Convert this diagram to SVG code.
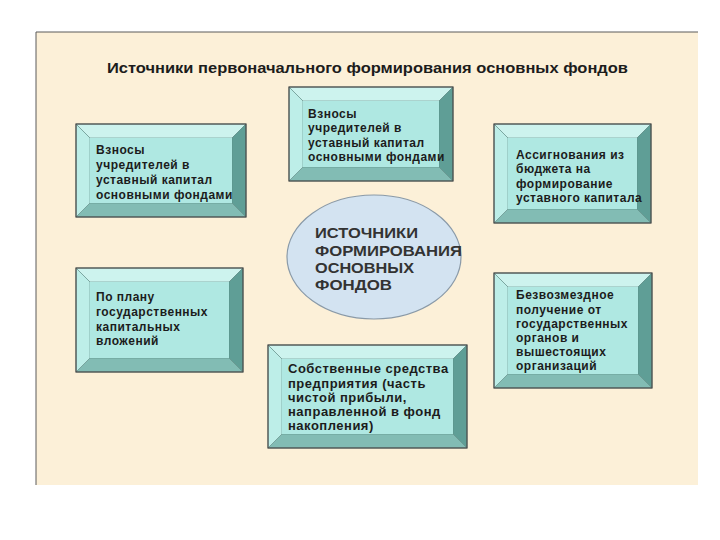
<svg xmlns="http://www.w3.org/2000/svg" width="720" height="540" viewBox="0 0 720 540">
<defs>
<style>
.bt{fill:#cdf3ee}.bl{fill:#bdeee8}.br{fill:#5f9e96}.bb{fill:#82bcb4}.bf{fill:#afe8e2}
.bt,.bl,.br,.bb{stroke:#5d8a84;stroke-width:0.6}
.bo{fill:none;stroke:#4a4a4a;stroke-width:1.2}
.t{font-family:"Liberation Sans",Arial,sans-serif;font-weight:bold;font-size:12px;letter-spacing:0.5px;fill:#1c1c1c}
.t6{font-size:13px}
.title{font-family:"Liberation Sans",Arial,sans-serif;font-weight:bold;font-size:15px;fill:#1c1c1c}
.et{font-family:"Liberation Sans",Arial,sans-serif;font-weight:bold;font-size:14.5px;fill:#333}
</style>
</defs>
<rect x="0" y="0" width="720" height="540" fill="#ffffff"/>
<rect x="36" y="32" width="662" height="453" fill="#fcf0d8"/>
<path d="M36,485 V32 H698" fill="none" stroke="#5a5a5a" stroke-width="1"/>
<text class="title" x="107" y="73" textLength="521" lengthAdjust="spacingAndGlyphs">Источники первоначального формирования основных фондов</text>

<g id="center">
<ellipse cx="374" cy="257" rx="87" ry="62" fill="#d3e3f1" stroke="#8a9aa8" stroke-width="1.2"/>
<text class="et" x="315" y="238" textLength="103" lengthAdjust="spacingAndGlyphs">ИСТОЧНИКИ</text>
<text class="et" x="315" y="256" textLength="147" lengthAdjust="spacingAndGlyphs">ФОРМИРОВАНИЯ</text>
<text class="et" x="315" y="273" textLength="99" lengthAdjust="spacingAndGlyphs">ОСНОВНЫХ</text>
<text class="et" x="315" y="290" textLength="77" lengthAdjust="spacingAndGlyphs">ФОНДОВ</text>
</g>

<g id="box1">
<polygon class="bt" points="76,124 246,124 232,138 90,138"/>
<polygon class="br" points="246,124 246,217 232,203 232,138"/>
<polygon class="bb" points="246,217 76,217 90,203 232,203"/>
<polygon class="bl" points="76,217 76,124 90,138 90,203"/>
<rect class="bf" x="90" y="138" width="142" height="65"/>
<rect class="bo" x="76" y="124" width="170" height="93"/>
<text class="t" x="96" y="154">Взносы</text>
<text class="t" x="96" y="169">учредителей в</text>
<text class="t" x="96" y="184">уставный капитал</text>
<text class="t" x="96" y="199">основными фондами</text>
</g>

<g id="box2">
<polygon class="bt" points="289,87 453,87 439,101 303,101"/>
<polygon class="br" points="453,87 453,181 439,167 439,101"/>
<polygon class="bb" points="453,181 289,181 303,167 439,167"/>
<polygon class="bl" points="289,181 289,87 303,101 303,167"/>
<rect class="bf" x="303" y="101" width="136" height="66"/>
<rect class="bo" x="289" y="87" width="164" height="94"/>
<text class="t" x="308" y="118">Взносы</text>
<text class="t" x="308" y="132">учредителей в</text>
<text class="t" x="308" y="147">уставный капитал</text>
<text class="t" x="308" y="161">основными фондами</text>
</g>

<g id="box3">
<polygon class="bt" points="494,124 651,124 637,138 508,138"/>
<polygon class="br" points="651,124 651,223 637,209 637,138"/>
<polygon class="bb" points="651,223 494,223 508,209 637,209"/>
<polygon class="bl" points="494,223 494,124 508,138 508,209"/>
<rect class="bf" x="508" y="138" width="129" height="71"/>
<rect class="bo" x="494" y="124" width="157" height="99"/>
<text class="t" x="516" y="159">Ассигнования из</text>
<text class="t" x="516" y="173">бюджета на</text>
<text class="t" x="516" y="188">формирование</text>
<text class="t" x="516" y="202">уставного капитала</text>
</g>

<g id="box4">
<polygon class="bt" points="76,268 243,268 229,282 90,282"/>
<polygon class="br" points="243,268 243,372 229,358 229,282"/>
<polygon class="bb" points="243,372 76,372 90,358 229,358"/>
<polygon class="bl" points="76,372 76,268 90,282 90,358"/>
<rect class="bf" x="90" y="282" width="139" height="76"/>
<rect class="bo" x="76" y="268" width="167" height="104"/>
<text class="t" x="96" y="301">По плану</text>
<text class="t" x="96" y="316">государственных</text>
<text class="t" x="96" y="331">капитальных</text>
<text class="t" x="96" y="345">вложений</text>
</g>

<g id="box5">
<polygon class="bt" points="494,273 652,273 638,287 508,287"/>
<polygon class="br" points="652,273 652,388 638,374 638,287"/>
<polygon class="bb" points="652,388 494,388 508,374 638,374"/>
<polygon class="bl" points="494,388 494,273 508,287 508,374"/>
<rect class="bf" x="508" y="287" width="130" height="87"/>
<rect class="bo" x="494" y="273" width="158" height="115"/>
<text class="t" x="516" y="299">Безвозмездное</text>
<text class="t" x="516" y="314">получение от</text>
<text class="t" x="516" y="328">государственных</text>
<text class="t" x="516" y="342">органов и</text>
<text class="t" x="516" y="356">вышестоящих</text>
<text class="t" x="516" y="370">организаций</text>
</g>

<g id="box6">
<polygon class="bt" points="268,345 467,345 453,359 282,359"/>
<polygon class="br" points="467,345 467,448 453,434 453,359"/>
<polygon class="bb" points="467,448 268,448 282,434 453,434"/>
<polygon class="bl" points="268,448 268,345 282,359 282,434"/>
<rect class="bf" x="282" y="359" width="171" height="75"/>
<rect class="bo" x="268" y="345" width="199" height="103"/>
<text class="t t6" x="288" y="373">Собственные средства</text>
<text class="t t6" x="288" y="388">предприятия (часть</text>
<text class="t t6" x="288" y="402">чистой прибыли,</text>
<text class="t t6" x="288" y="416">направленной в фонд</text>
<text class="t t6" x="288" y="430">накопления)</text>
</g>

<g id="connectors"/>
</svg>
